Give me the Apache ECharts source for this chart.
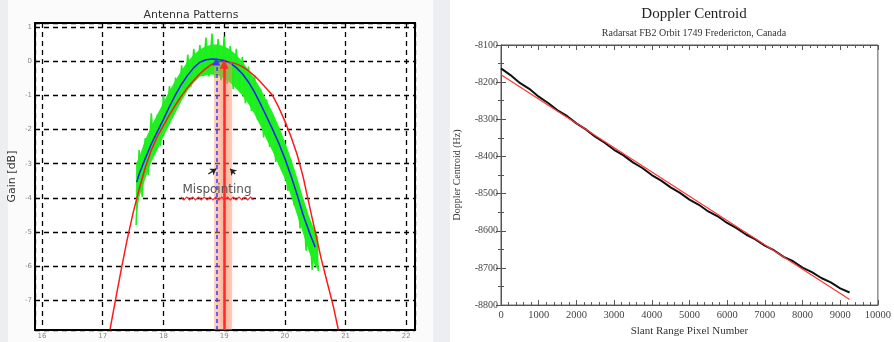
<!DOCTYPE html>
<html>
<head>
<meta charset="utf-8">
<script src="https://cdn.jsdelivr.net/npm/echarts@6/dist/echarts.min.js"></script>
<style>
  html, body { margin: 0; padding: 0; background: #eceff2; }
  #chart { width: 894px; height: 342px; }
</style>
</head>
<body>
<div id="chart"></div>
<script>
// ---- left: antenna patterns (gain in dB vs angle) ----
var redX = [17.12, 17.2, 17.3, 17.4, 17.5, 17.6, 17.7, 17.8, 17.9, 18.0, 18.1, 18.2, 18.3, 18.4, 18.5, 18.6, 18.7, 18.8, 18.9, 19.0,
            19.1, 19.2, 19.3, 19.4, 19.5, 19.6, 19.7, 19.8, 19.9, 20.0, 20.1, 20.2, 20.3, 20.4, 20.5, 20.6, 20.7, 20.8, 20.88];
var redGain = [-7.87, -7.1, -6.15, -5.25, -4.45, -3.75, -3.12, -2.6, -2.2, -1.88, -1.56, -1.27, -1.0, -0.76, -0.55, -0.36, -0.2, -0.08, -0.01, 0,
               -0.02, -0.07, -0.15, -0.27, -0.42, -0.6, -0.8, -1.0, -1.35, -1.75, -2.2, -2.72, -3.38, -4.2, -5.0, -5.8, -6.5, -7.2, -7.87];

var blueX = [17.56, 17.6, 17.7, 17.8, 17.9, 18.0, 18.1, 18.2, 18.3, 18.4, 18.5, 18.6, 18.7, 18.8, 18.9,
             19.0, 19.1, 19.2, 19.3, 19.4, 19.5, 19.6, 19.7, 19.8, 19.9, 20.0, 20.1, 20.2, 20.3, 20.4, 20.5];
var blueGain = [-3.54, -3.3, -2.85, -2.42, -2.06, -1.7, -1.32, -0.97, -0.66, -0.4, -0.18, -0.02, 0.05, 0.07, 0.06,
                0.03, -0.05, -0.18, -0.36, -0.6, -0.9, -1.25, -1.62, -2.0, -2.4, -2.85, -3.35, -3.9, -4.5, -5.0, -5.45];

// measured (noisy) pattern: band edges and spikes
var bandX = [17.55, 17.6, 17.7, 17.8, 17.9, 18.0, 18.1, 18.2, 18.3, 18.4, 18.5, 18.6, 18.7, 18.8, 18.9, 19.0,
             19.1, 19.2, 19.3, 19.4, 19.5, 19.6, 19.7, 19.8, 19.9, 20.0, 20.1, 20.2, 20.3, 20.4, 20.5, 20.55];
var bandLow = [-4.6, -4.0, -3.45, -2.95, -2.6, -2.2, -1.85, -1.5, -1.15, -0.85, -0.62, -0.45, -0.4, -0.38, -0.42, -0.5,
               -0.62, -0.8, -1.0, -1.25, -1.55, -1.9, -2.3, -2.65, -3.05, -3.45, -3.95, -4.5, -5.05, -5.6, -6.0, -6.1];
var bandHigh = [-3.0, -2.8, -2.3, -1.9, -1.55, -1.2, -0.85, -0.55, -0.25, 0.0, 0.2, 0.35, 0.45, 0.5, 0.5, 0.45,
                0.35, 0.2, 0.0, -0.25, -0.5, -0.8, -1.15, -1.5, -1.9, -2.35, -2.85, -3.4, -4.0, -4.55, -5.0, -5.15];

var greenX = [17.55, 17.6, 17.65, 17.7, 17.75, 17.8, 17.85, 17.9, 17.95, 18.0, 18.05, 18.1, 18.15, 18.2, 18.25, 18.3, 18.35, 18.4, 18.45, 18.5,
              18.55, 18.6, 18.65, 18.7, 18.75, 18.8, 18.85, 18.9, 18.95, 19.0, 19.05, 19.1, 19.15, 19.2, 19.25, 19.3, 19.35, 19.4, 19.45, 19.5,
              19.55, 19.6, 19.65, 19.7, 19.75, 19.8, 19.85, 19.9, 19.95, 20.0, 20.05, 20.1, 20.15, 20.2, 20.25, 20.3, 20.35, 20.4, 20.45, 20.5, 20.55];
var greenGain = [-4.8, -2.6, -3.97, -2.25, -3.33, -1.52, -2.74, -1.56, -2.48, -1.0, -1.91, -0.72, -1.64, -0.47, -1.26, -0.11, -0.93, 0.2, -0.74, 0.37,
                 -0.5, 0.48, -0.43, 0.7, -0.44, 0.82, -0.48, 0.66, -0.55, 0.73, -0.66, 0.45, -0.81, 0.37, -0.87, 0.14, -1.23, -0.15, -1.45, -0.4,
                 -1.72, -0.8, -2.23, -1.12, -2.51, -1.6, -2.95, -1.95, -3.22, -2.45, -3.8, -2.9, -4.22, -3.5, -4.9, -4.05, -5.55, -4.6, -6.12, -4.95, -6.15];

var mispointBlueX = 18.87;
var mispointRedX = 19.0;

// ---- right: doppler centroid vs slant range pixel ----
var pixelX = [0, 250, 500, 750, 1000, 1250, 1500, 1750, 2000, 2250, 2500, 2750, 3000, 3250, 3500, 3750, 4000, 4250, 4500, 4750,
              5000, 5250, 5500, 5750, 6000, 6250, 6500, 6750, 7000, 7250, 7500, 7750, 8000, 8250, 8500, 8750, 9000, 9250];
var dopplerHz = [-8163, -8181, -8202, -8218, -8239, -8256, -8276, -8291, -8311, -8327, -8347, -8363, -8382, -8397, -8416, -8431, -8450, -8465, -8483, -8498,
                 -8516, -8530, -8548, -8561, -8579, -8593, -8610, -8623, -8640, -8653, -8670, -8682, -8699, -8711, -8727, -8739, -8755, -8766];
var fitX = [0, 9250];
var fitHz = [-8180, -8785];

function pairs(xs, ys) {
    return xs.map(function (x, i) { return [x, ys[i]]; });
}

var chart = echarts.init(document.getElementById('chart'));

// spell-check squiggle under "Mispointing"
var squiggle = [];
for (var i = 0; i <= 25; i++) {
    squiggle.push([181 + i * 2.9, 198.5 + (i % 2 ? 1.5 : -1.5)]);
}

var serif = '"Liberation Serif", "DejaVu Serif", serif';
var sans = '"DejaVu Sans", "Liberation Sans", sans-serif';
var plain = function (v) { return String(v); };

// green band: one polygon through the high edge and back along the low edge
function renderBand(params, api) {
    if (params.dataIndex !== 0) return null;
    var pts = [];
    for (var k = 0; k < bandX.length; k++) pts.push(api.coord([bandX[k], bandHigh[k]]));
    for (var k2 = bandX.length - 1; k2 >= 0; k2--) pts.push(api.coord([bandX[k2], bandLow[k2]]));
    return {type: 'polygon', shape: {points: pts}, style: {fill: '#22f022'}};
}

chart.setOption({
    backgroundColor: '#eceff2',
    animation: false,
    graphic: {
        elements: [
            {type: 'rect', z: -10, shape: {x: 8, y: 0, width: 425, height: 342}, style: {fill: '#fbfbfb'}},
            {type: 'rect', z: -10, shape: {x: 450, y: 0, width: 444, height: 342}, style: {fill: '#ffffff'}},
            {type: 'text', z: 50, x: 191, y: 15,
             style: {text: 'Antenna Patterns', font: '11px ' + sans, fill: '#333', align: 'center', verticalAlign: 'middle'}},
            {type: 'text', z: 50, x: 217, y: 190,
             style: {text: 'Mispointing', font: '12px ' + sans, fill: '#555', align: 'center', verticalAlign: 'middle'}},
            {type: 'polyline', z: 50, shape: {points: squiggle}, style: {stroke: '#ff2a2a', lineWidth: 1.2, fill: null}},
            {type: 'text', z: 50, x: 694, y: 14,
             style: {text: 'Doppler Centroid', font: '15px ' + serif, fill: '#222', align: 'center', verticalAlign: 'middle'}},
            {type: 'text', z: 50, x: 694, y: 33,
             style: {text: 'Radarsat FB2 Orbit 1749 Fredericton, Canada', font: '10px ' + serif, fill: '#333', align: 'center', verticalAlign: 'middle'}}
        ]
    },
    grid: [
        {left: 35, top: 23, width: 380, height: 307, show: true, backgroundColor: '#ffffff', borderColor: '#000', borderWidth: 2},
        {left: 501, top: 45, width: 385, height: 270, show: true, backgroundColor: '#ffffff', borderColor: '#555', borderWidth: 1}
    ],
    xAxis: [
        {
            gridIndex: 0, type: 'value', min: 15.885, max: 22.143, minInterval: 1, maxInterval: 1,
            axisLine: {show: false}, axisTick: {show: false},
            axisLabel: {showMinLabel: false, showMaxLabel: false, fontSize: 7, color: '#888', margin: 3, fontFamily: sans},
            splitLine: {show: true, lineStyle: {color: '#000', width: 1.3, type: [5, 4]}}
        },
        {
            gridIndex: 1, type: 'value', min: 0, max: 10000, interval: 1000,
            name: 'Slant Range Pixel Number', nameLocation: 'middle', nameGap: 20,
            nameTextStyle: {fontFamily: serif, fontSize: 11, color: '#333'},
            axisLine: {lineStyle: {color: '#555'}},
            axisTick: {inside: true, length: 5, lineStyle: {color: '#555'}},
            minorTick: {show: true, splitNumber: 5, length: 3, lineStyle: {color: '#555'}},
            axisLabel: {fontFamily: serif, fontSize: 10.5, color: '#444', margin: 5, formatter: plain},
            splitLine: {show: false}
        },
        {
            gridIndex: 1, type: 'value', min: 0, max: 10000, interval: 1000, position: 'top',
            axisLine: {lineStyle: {color: '#555'}},
            axisTick: {inside: true, length: 5, lineStyle: {color: '#555'}},
            minorTick: {show: true, splitNumber: 5, length: 3, lineStyle: {color: '#555'}},
            axisLabel: {show: false}, splitLine: {show: false}
        }
    ],
    yAxis: [
        {
            gridIndex: 0, type: 'value', min: -7.88, max: 1.13, minInterval: 1, maxInterval: 1,
            name: 'Gain [dB]', nameLocation: 'middle', nameGap: 17,
            nameTextStyle: {fontFamily: sans, fontSize: 11, color: '#333'},
            axisLine: {show: false}, axisTick: {show: false},
            axisLabel: {showMinLabel: false, showMaxLabel: false, fontSize: 7, color: '#888', margin: 3, fontFamily: sans},
            splitLine: {show: true, lineStyle: {color: '#000', width: 1.3, type: [5, 4]}}
        },
        {
            gridIndex: 1, type: 'value', min: -8800, max: -8100, interval: 100,
            name: 'Doppler Centroid (Hz)', nameLocation: 'middle', nameGap: 39,
            nameTextStyle: {fontFamily: serif, fontSize: 10, color: '#333'},
            axisLine: {lineStyle: {color: '#555'}},
            axisTick: {inside: true, length: 5, lineStyle: {color: '#555'}},
            minorTick: {show: true, splitNumber: 2, length: 3, lineStyle: {color: '#555'}},
            axisLabel: {fontFamily: serif, fontSize: 10, color: '#444', margin: 3, formatter: plain},
            splitLine: {show: false}
        },
        {
            gridIndex: 1, type: 'value', min: -8800, max: -8100, interval: 100, position: 'right',
            axisLine: {lineStyle: {color: '#555'}},
            axisTick: {inside: true, length: 5, lineStyle: {color: '#555'}},
            minorTick: {show: true, splitNumber: 2, length: 3, lineStyle: {color: '#555'}},
            axisLabel: {show: false}, splitLine: {show: false}
        }
    ],
    series: [
        {
            type: 'custom', xAxisIndex: 0, yAxisIndex: 0, z: 2,
            data: bandX.map(function (x, i) { return [x, bandLow[i], bandHigh[i]]; }),
            encode: {x: 0, y: [1, 2]},
            renderItem: renderBand
        },
        {
            type: 'line', xAxisIndex: 0, yAxisIndex: 0, data: pairs(greenX, greenGain),
            showSymbol: false, lineStyle: {color: '#1cf01c', width: 1.6}, z: 2
        },
        {
            type: 'line', xAxisIndex: 0, yAxisIndex: 0, data: pairs(redX, redGain),
            showSymbol: false, lineStyle: {color: '#ff1a1a', width: 1.5}, z: 3
        },
        {
            type: 'line', xAxisIndex: 0, yAxisIndex: 0, data: pairs(blueX, blueGain),
            showSymbol: false, lineStyle: {color: '#1a1aff', width: 1.5}, z: 4
        },
        // mispointing glow + arrows
        {
            type: 'lines', coordinateSystem: 'cartesian2d', xAxisIndex: 0, yAxisIndex: 0, z: 5,
            data: [{coords: [[mispointRedX - 0.03, -7.88], [mispointRedX - 0.03, -0.02]]}],
            lineStyle: {color: 'rgba(248,160,120,0.45)', width: 18, opacity: 1}, symbol: 'none'
        },
        {
            type: 'lines', coordinateSystem: 'cartesian2d', xAxisIndex: 0, yAxisIndex: 0, z: 6,
            data: [{coords: [[mispointRedX, -7.88], [mispointRedX, -0.08]]}],
            lineStyle: {color: '#ff2a2a', width: 2.5, opacity: 1, shadowBlur: 8, shadowColor: 'rgba(255,70,40,0.9)'},
            symbol: ['none', 'triangle'], symbolSize: 9
        },
        {
            type: 'lines', coordinateSystem: 'cartesian2d', xAxisIndex: 0, yAxisIndex: 0, z: 7,
            data: [{coords: [[mispointBlueX, -7.88], [mispointBlueX, 0.0]]}],
            lineStyle: {color: '#3a3aff', width: 1.5, opacity: 1, type: [4, 3]},
            symbol: ['none', 'triangle'], symbolSize: 8
        },
        {
            type: 'lines', coordinateSystem: 'cartesian2d', xAxisIndex: 0, yAxisIndex: 0, z: 8,
            data: [
                {coords: [[18.74, -3.3], [18.87, -3.15]]},
                {coords: [[19.18, -3.3], [19.1, -3.15]]}
            ],
            lineStyle: {color: '#222', width: 1.3, opacity: 1},
            symbol: ['none', 'arrow'], symbolSize: 6
        },
        // doppler centroid
        {
            type: 'line', xAxisIndex: 1, yAxisIndex: 1, data: pairs(pixelX, dopplerHz),
            showSymbol: false, lineStyle: {color: '#111', width: 2}, z: 3
        },
        {
            type: 'line', xAxisIndex: 1, yAxisIndex: 1, data: pairs(fitX, fitHz),
            showSymbol: false, lineStyle: {color: '#ff3333', width: 1.2}, z: 4
        }
    ]
});
</script>
</body>
</html>
